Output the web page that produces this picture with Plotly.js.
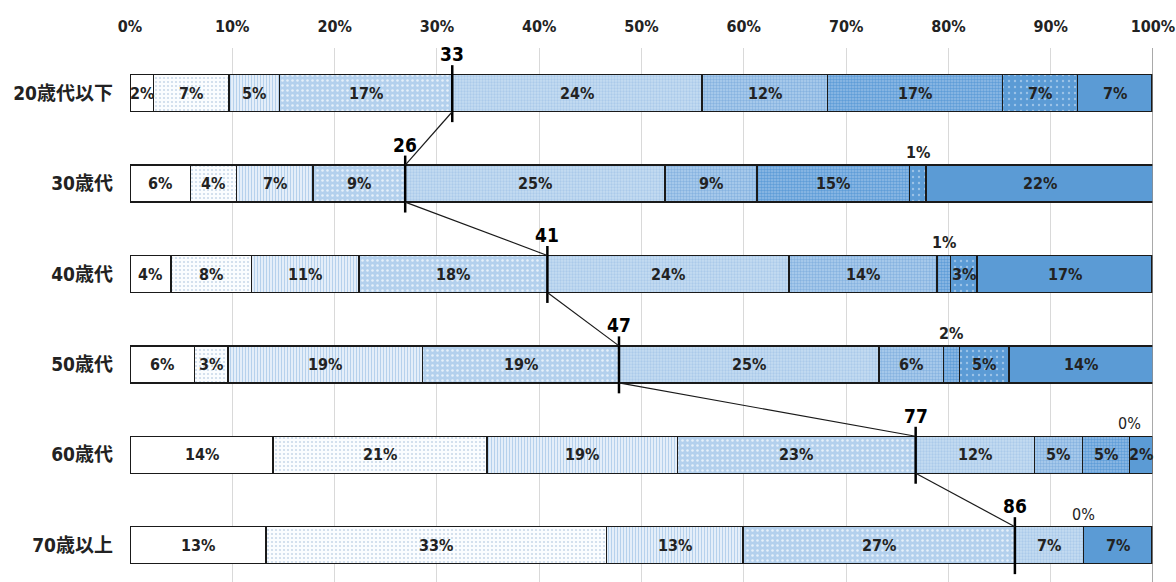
<!DOCTYPE html>
<html>
<head>
<meta charset="utf-8">
<script src="https://cdn.plot.ly/plotly-3.0.1.min.js"></script>
<style>html,body{margin:0;padding:0;background:#fff;}#chart{width:1176px;height:582px;}</style>
</head>
<body>
<div id="chart"></div>
<script>
// Age groups (top to bottom)
const ageGroups = ["20歳代以下", "30歳代", "40歳代", "50歳代", "60歳代", "70歳以上"];

// Share of each of the 9 categories per age group (%)
const cat1 = [2.3, 5.9, 4.0, 6.3, 14.0, 13.3];
const cat2 = [7.4, 4.5, 7.9, 3.3, 20.9, 33.3];
const cat3 = [4.9, 7.5, 10.5, 19.0, 18.6, 13.3];
const cat4 = [16.9, 9.0, 18.4, 19.2, 23.3, 26.6];
const cat5 = [24.4, 25.4, 23.6, 25.4, 11.6, 6.7];
const cat6 = [12.3, 9.0, 14.5, 6.3, 4.7, 0];
const cat7 = [17.1, 14.9, 1.3, 1.6, 4.6, 0];
const cat8 = [7.3, 1.6, 2.6, 4.8, 0, 0];
const cat9 = [7.3, 22.3, 17.1, 14.2, 2.3, 6.7];

// Printed data labels (%)
const lab1 = [2, 6, 4, 6, 14, 13];
const lab2 = [7, 4, 8, 3, 21, 33];
const lab3 = [5, 7, 11, 19, 19, 13];
const lab4 = [17, 9, 18, 19, 23, 27];
const lab5 = [24, 25, 24, 25, 12, 7];
const lab6 = [12, 9, 14, 6, 5, 0];
const lab7 = [17, 15, 1, 2, 5, 0];
const lab8 = [7, 1, 3, 5, 0, 0];
const lab9 = [7, 22, 17, 14, 2, 7];

// Median markers (printed value)
const medianLabels = [33, 26, 41, 47, 77, 86];

// x-axis ticks
const xTicks = [0, 10, 20, 30, 40, 50, 60, 70, 80, 90, 100];
const xTickText = xTicks.map(v => v + "%");

const series = [cat1, cat2, cat3, cat4, cat5, cat6, cat7, cat8, cat9];
const labels = [lab1, lab2, lab3, lab4, lab5, lab6, lab7, lab8, lab9];

const styles = [
  {color: "#ffffff"},
  {color: "#f3f7fc", pattern: {shape: ".", fgcolor: "#cbdaea", bgcolor: "#fbfdff", size: 4, solidity: 0.22}},
  {color: "#dce9f6", pattern: {shape: "|", fgcolor: "#b6d1ec", bgcolor: "#eef5fc", size: 3, solidity: 0.45}},
  {color: "#b8d4ee", pattern: {shape: ".", fgcolor: "#e6f0fa", bgcolor: "#b3d0ed", size: 5, solidity: 0.2}},
  {color: "#bcd7ef", pattern: {shape: ".", fgcolor: "#abcaea", bgcolor: "#c6ddf2", size: 3, solidity: 0.45}},
  {color: "#a0c4e8", pattern: {shape: ".", fgcolor: "#86b3e0", bgcolor: "#b0cfee", size: 3, solidity: 0.5}},
  {color: "#74a8dd", pattern: {shape: ".", fgcolor: "#5f9dd8", bgcolor: "#94bde6", size: 3, solidity: 0.55}},
  {color: "#5b9bd5", pattern: {shape: ".", fgcolor: "#9cc3e8", bgcolor: "#5b9bd5", size: 6, solidity: 0.12}},
  {color: "#5b9bd5"}
];

const yIdx = ageGroups.map((_, i) => i);
const FONT = "'Liberation Sans Narrow', 'Arial Narrow', 'DejaVu Sans Condensed', 'Noto Sans CJK JP', sans-serif";
const HALF = 0.205; // half bar thickness in y units

const traces = series.map((vals, k) => {
  const m = {color: styles[k].color, line: {color: "#1a1a1a", width: 1.5}};
  if (styles[k].pattern) m.pattern = Object.assign({fillmode: "replace"}, styles[k].pattern);
  return {type: "bar", orientation: "h", x: vals, y: yIdx, marker: m, hoverinfo: "skip", showlegend: false};
});

// Data labels
const annotations = [];
ageGroups.forEach((g, r) => {
  let cum = 0;
  const seen = {};
  series.forEach((vals, k) => {
    const v = vals[r];
    const cx = cum + v / 2;
    const txt = labels[k][r] + "%";
    if (v >= 2) {
      annotations.push({x: cx, y: r, xref: "x", yref: "y", text: "<b>" + txt + "</b>", showarrow: false,
        font: {family: FONT, size: 16, color: "#222"}});
    } else {
      const key = cx.toFixed(2);
      if (!seen[key]) {
        seen[key] = true;
        annotations.push({x: cx, y: r - HALF, xref: "x", yref: "y", text: v === 0 ? txt : "<b>" + txt + "</b>", showarrow: false,
          yanchor: "bottom", yshift: 1, font: {family: FONT, size: 16, color: "#222"}});
      }
    }
    cum += v;
  });
});

// Median positions: boundary after the first four categories
const medX = ageGroups.map((_, r) => cat1[r] + cat2[r] + cat3[r] + cat4[r]);

// Vertical median ticks
const tickX = [], tickY = [];
medX.forEach((m, r) => { tickX.push(m, m, null); tickY.push(r - 0.31, r + 0.32, null); });
traces.push({type: "scatter", mode: "lines", x: tickX, y: tickY, line: {color: "#000", width: 2.5},
  hoverinfo: "skip", showlegend: false});

// Connector lines between rows
const conX = [], conY = [];
for (let r = 0; r < medX.length - 1; r++) {
  conX.push(medX[r], medX[r + 1], null);
  conY.push(r + HALF, r + 1 - HALF, null);
}
traces.push({type: "scatter", mode: "lines", x: conX, y: conY, line: {color: "#1a1a1a", width: 1.2},
  hoverinfo: "skip", showlegend: false});

medX.forEach((m, r) => {
  annotations.push({x: m, y: r - 0.31, xref: "x", yref: "y", text: "<b>" + medianLabels[r] + "</b>", showarrow: false,
    yanchor: "bottom", yshift: -2, font: {family: FONT, size: 19, color: "#000"}});
});

const layout = {
  width: 1176, height: 582,
  margin: {l: 130, r: 23, t: 48, b: 0, pad: 0},
  paper_bgcolor: "#ffffff", plot_bgcolor: "#ffffff",
  barmode: "stack", bargap: 0.59,
  font: {family: FONT, color: "#222"},
  xaxis: {side: "top", range: [0, 100], tickvals: xTicks, ticktext: xTickText, showgrid: true,
    gridcolor: "#d9d9d9", gridwidth: 1, zeroline: false, showline: false, ticks: "",
    ticklabelstandoff: 12, tickfont: {family: FONT, size: 16, color: "#222", weight: "bold"}, fixedrange: true},
  yaxis: {range: [5.407, -0.5], tickvals: yIdx, ticktext: ageGroups, showgrid: false, zeroline: false,
    showline: false, ticks: "", ticklabelstandoff: 16,
    tickfont: {family: FONT, size: 19, color: "#222", weight: "bold"}, fixedrange: true},
  shapes: [{type: "line", xref: "x", yref: "paper", x0: 100, x1: 100, y0: 0, y1: 1,
    line: {color: "#8c8c8c", width: 1.5}}],
  annotations: annotations
};

Plotly.newPlot("chart", traces, layout, {displayModeBar: false, staticPlot: true});
</script>
</body>
</html>
